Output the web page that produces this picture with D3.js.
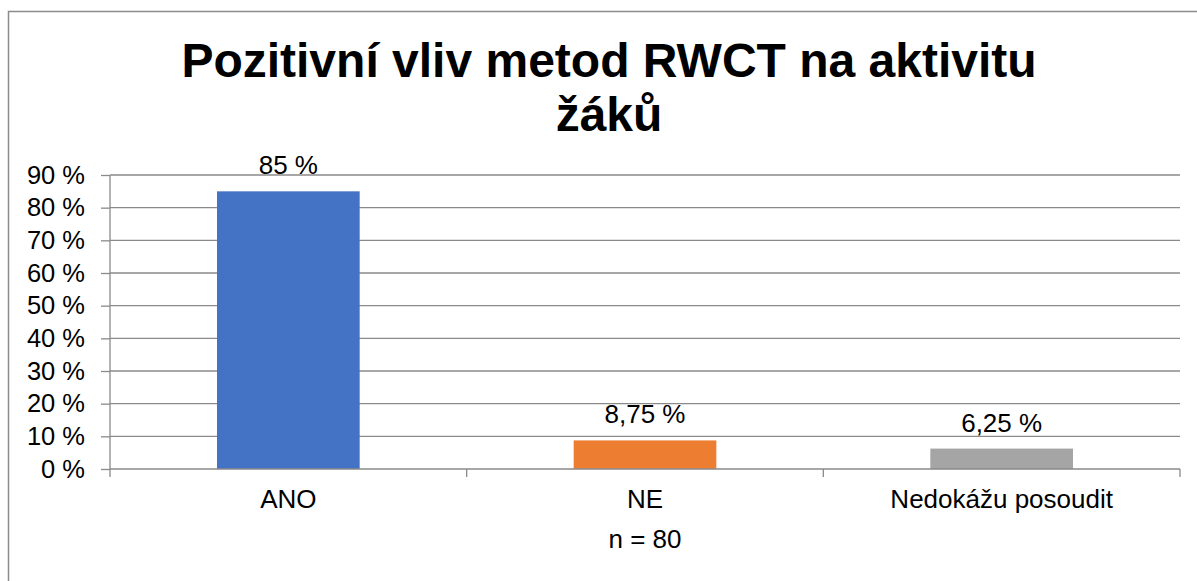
<!DOCTYPE html>
<html>
<head>
<meta charset="utf-8">
<script src="https://cdn.jsdelivr.net/npm/d3@7"></script>
<style>
  html, body { margin: 0; padding: 0; background: #fff; }
  svg { display: block; font-family: "Liberation Sans", Arial, sans-serif; }
</style>
</head>
<body>
<svg id="chart" width="1197" height="581"></svg>
<script>
// Chart data
const categories = ["ANO", "NE", "Nedokážu posoudit"];
const values = [85, 8.75, 6.25];
const valueLabels = ["85 %", "8,75 %", "6,25 %"];
const barColors = ["#4472C4", "#ED7D31", "#A5A5A5"];
const yTicks = [0, 10, 20, 30, 40, 50, 60, 70, 80, 90];
const titleLines = ["Pozitivní vliv metod RWCT na aktivitu", "žáků"];
const note = "n = 80";

const svg = d3.select("#chart");
const W = 1197, H = 581;
const plot = { left: 110, right: 1180, top: 175, bottom: 469 };
const gridColor = "#8a8a8a";
const labelSize = 26;

// Outer frame (continues beyond the right and bottom edges)
svg.append("path")
  .attr("d", `M8.5,${H + 5} V11.5 H${W + 5}`)
  .attr("fill", "none")
  .attr("stroke", "#8c8c8c")
  .attr("stroke-width", 1.5);

// Title
const title = svg.append("text")
  .attr("text-anchor", "middle")
  .attr("font-weight", "bold")
  .attr("font-size", 48)
  .attr("fill", "#000");
titleLines.forEach((t, i) => {
  title.append("tspan").attr("x", 609).attr("y", 77 + i * 54).text(t);
});

// Scales
const x = d3.scaleBand()
  .domain(categories)
  .range([plot.left, plot.right])
  .paddingInner(0.6)
  .paddingOuter(0.3);

const y = d3.scaleLinear()
  .domain([0, 90])
  .range([plot.bottom, plot.top]);

// Horizontal gridlines
svg.append("g")
  .selectAll("line")
  .data(yTicks.filter(d => d > 0))
  .join("line")
  .attr("x1", plot.left).attr("x2", plot.right)
  .attr("y1", d => y(d)).attr("y2", d => y(d))
  .attr("stroke", gridColor)
  .attr("stroke-width", 1.3);

// Y axis
const yAxis = svg.append("g")
  .attr("transform", `translate(${plot.left},0)`)
  .call(d3.axisLeft(y).tickValues(yTicks).tickFormat(d => d + " %").tickSize(9).tickPadding(16));
yAxis.select(".domain").remove();
yAxis.selectAll(".tick line").attr("stroke", gridColor).attr("stroke-width", 1.3);
yAxis.selectAll(".tick text")
  .attr("font-size", 25.5)
  .attr("font-family", "Liberation Sans, Arial, sans-serif")
  .attr("fill", "#000");
svg.append("line")
  .attr("x1", plot.left).attr("x2", plot.left)
  .attr("y1", plot.top).attr("y2", plot.bottom + 8)
  .attr("stroke", gridColor).attr("stroke-width", 1.3);

// Bars
svg.append("g")
  .selectAll("rect")
  .data(values)
  .join("rect")
  .attr("x", (d, i) => x(categories[i]))
  .attr("width", x.bandwidth())
  .attr("y", d => y(d))
  .attr("height", d => y(0) - y(d))
  .attr("fill", (d, i) => barColors[i]);

// Category axis with ticks at category boundaries
svg.append("line")
  .attr("x1", plot.left).attr("x2", plot.right)
  .attr("y1", y(0)).attr("y2", y(0))
  .attr("stroke", gridColor).attr("stroke-width", 1.3);
svg.append("g")
  .selectAll("line")
  .data(categories.map((c, i) => i + 1))
  .join("line")
  .attr("x1", i => plot.left + (plot.right - plot.left) * i / categories.length)
  .attr("x2", i => plot.left + (plot.right - plot.left) * i / categories.length)
  .attr("y1", y(0)).attr("y2", y(0) + 8)
  .attr("stroke", gridColor).attr("stroke-width", 1.3);

svg.append("g")
  .selectAll("text")
  .data(categories)
  .join("text")
  .attr("x", d => x(d) + x.bandwidth() / 2)
  .attr("y", 508)
  .attr("text-anchor", "middle")
  .attr("font-size", labelSize)
  .attr("fill", "#000")
  .text(d => d);

// Value labels
svg.append("g")
  .selectAll("text")
  .data(values)
  .join("text")
  .attr("x", (d, i) => x(categories[i]) + x.bandwidth() / 2)
  .attr("y", d => y(d) - 17)
  .attr("text-anchor", "middle")
  .attr("font-size", labelSize)
  .attr("fill", "#000")
  .text((d, i) => valueLabels[i]);

// Sample size note
svg.append("text")
  .attr("x", (plot.left + plot.right) / 2)
  .attr("y", 548)
  .attr("text-anchor", "middle")
  .attr("font-size", labelSize)
  .attr("fill", "#000")
  .text(note);
</script>
</body>
</html>
